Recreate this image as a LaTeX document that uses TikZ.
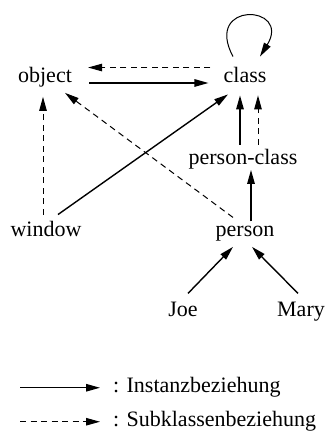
\documentclass[tikz,border=0pt]{standalone}
\usepackage{fontspec}
\setmainfont{Liberation Serif}
\usetikzlibrary{arrows.meta}

\begin{document}
\begin{tikzpicture}[x=1pt, y=1pt, font=\fontsize{22}{26}\selectfont,
        every node/.style={inner sep=0pt, anchor=base},
        >={Triangle[length=14pt,width=7.5pt]},
        inst/.style={->, line width=1.4pt},
        subk/.style={->, line width=1pt, dash pattern=on 6pt off 4.5pt}]
        \useasboundingbox (0, 0) rectangle (325, 434);
        \path (45, 351) node(obj) {object} (245, 351) node(cls) {class}
              (243, 269) node(pcls) {person-class}
              (46, 197) node(win) {window} (245, 197) node(pers) {person}
              (183, 117) node(joe) {Joe} (301, 117) node(mary) {Mary};
        \draw[subk] ([xshift=-13pt]cls.north west) -- ([xshift=16pt]obj.north east);
        \draw[inst] ([xshift=17pt]obj.base east) -- ([xshift=-15pt]cls.base west);
        \draw[->, line width=1pt] ([shift={(-12, 11)}]cls.north) .. controls +(-30, 56) and +(32, 52) .. ([shift={(15, 11)}]cls.north);
        \draw[subk] ([shift={(-3, 7)}]win.north) -- ([shift={(-2, -9)}]obj.south);
        \draw[inst] ([shift={(12, 7)}]win.north) -- ([shift={(-17, -11)}]cls.south);
        \draw[subk] ([shift={(-12, 9)}]pers.north) -- ([shift={(20, -5)}]obj.south);
        \draw[inst] ([shift={(6, 5)}]pers.north) -- ([shift={(8, 0)}]pcls.south);
        \draw[inst] ([shift={(-3, 5)}]pcls.north) -- ([shift={(-5, -12)}]cls.south);
        \draw[subk] ([shift={(15, 5)}]pcls.north) -- ([shift={(13, -12)}]cls.south);
        \draw[inst] ([shift={(5, 9)}]joe.north) -- ([shift={(-12, -5)}]pers.south);
        \draw[inst] ([shift={(-3, 9)}]mary.north) -- ([shift={(7, -5)}]pers.south);
        % legend
        \path (113, 41) node[anchor=base west](leg1) {: Instanzbeziehung}
              (113, 7) node[anchor=base west](leg2) {: Subklassenbeziehung};
        \draw[inst] ([xshift=-93pt]leg1.west) -- ([xshift=-13pt]leg1.west);
        \draw[subk] ([xshift=-93pt]leg2.west) -- ([xshift=-13pt]leg2.west);
    \end{tikzpicture}
\end{document}
